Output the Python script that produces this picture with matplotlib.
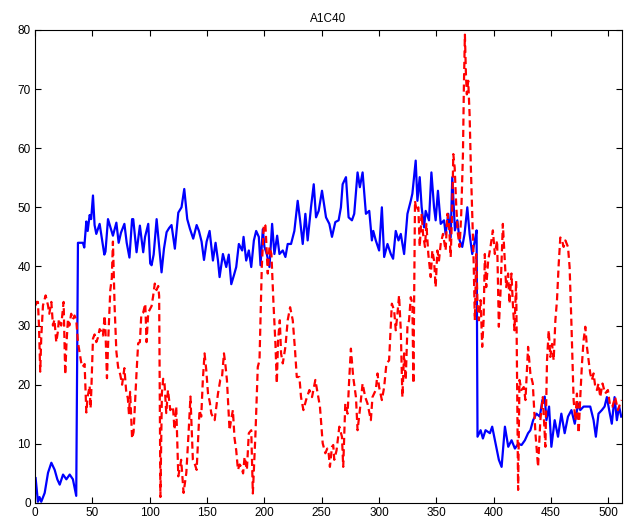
import matplotlib
matplotlib.use('Agg')
import matplotlib.pyplot as plt

# blue solid series (sample index, value)
blue_x = [0.6, 2.6, 4, 5.5, 8.5, 11.4, 14.3, 17.2, 19.5, 21.6, 24.5, 27.4, 30.3, 33.1, 36,
          37.5, 41.8, 43, 44.8, 46, 47.7, 49, 50.6, 52, 53.5, 56.4, 59.3, 60.5, 61.5, 63.7,
          66, 68, 71, 73, 75, 78, 80, 82.4, 84.7, 85.7, 88.6, 91.5, 94.4, 96, 98.8, 100.5,
          101.7, 103.5, 106.1, 108, 110.4, 112.5, 114.8, 117, 119.1, 122, 125, 127.8, 130.2,
          132.8, 135.1, 138, 141, 143, 145.3, 147.4, 149.7, 152.3, 155.2, 157.5, 159.6, 161,
          163.9, 166.8, 169, 171.2, 173.5, 175.5, 177.8, 180.7, 181.9, 184.2, 186.5, 188.6,
          190.9, 192.9, 195.2, 196.7, 198.7, 200.1, 202.2, 204.5, 206.8, 208.8, 211.2, 213.2,
          216.1, 218.4, 220.4, 223.3, 226.2, 229.1, 231.2, 233.5, 235.8, 237.8, 240.7, 243.1,
          245.1, 247.4, 250.3, 253.8, 256.7, 259, 261.9, 264.8, 266.8, 268.3, 271.2, 273.5,
          276.4, 278.4, 281.3, 283.3, 285.7, 288.6, 291.5, 293.8, 295, 297.2, 300.1, 302.5,
          304.5, 307.4, 310.3, 312.3, 314.6, 317, 319, 321.9, 324.8, 327.7, 329.1, 332, 333.5,
          335.5, 337.2, 339.3, 340.7, 343.6, 345.7, 348, 349.4, 351.4, 353.8, 356.7, 358.1,
          360.4, 362.5, 363.9, 366.2, 368.3, 370.3, 372.6, 374.6, 377, 379, 381.3, 383.6,
          385.1, 385.9, 388.6, 390.6, 392.9, 396.7, 398.7, 401.6, 404.5, 406.9, 409.8, 412.7,
          415.6, 418.5, 421.4, 424.3, 427.2, 430, 432, 434.4, 437.3, 440.2, 442.5, 444.5, 446,
          448.3, 450.3, 453.2, 456.1, 459, 461.9, 464.8, 467.8, 470.7, 473.6, 475.5, 478.4,
          481.3, 484.2, 487.1, 489.1, 491.4, 494.3, 496.7, 498.7, 500.7, 503, 505.4, 507.4,
          509.4, 511.2]
blue_y = [4.2, 0.2, 1, 0.2, 1.7, 5.1, 6.8, 5.6, 4, 3.1, 4.8, 4, 4.8, 4, 1.2,
          44, 44, 43.2, 47.6, 46, 48.7, 48, 52, 47, 45.5, 47.2, 43.5, 42, 42.5, 48,
          46.5, 45.2, 47.4, 44, 45.7, 47.2, 44, 41.5, 48, 48, 42.4, 46.9, 42.4, 45, 47.2, 40.5,
          40.2, 42, 48, 44, 39, 43, 45.8, 46.5, 47, 43, 49.1, 50, 53.1,
          48, 46.4, 44.7, 47, 46, 44.2, 41.1, 44.2, 46, 41, 44, 41, 38.2,
          42.1, 39.9, 42, 37, 38.5, 39.9, 43.8, 42.7, 45, 41, 42.7, 39.9,
          44.4, 46, 45, 40.2, 46.3, 43.3, 42.1, 39.9, 47.2, 42.1, 45.2, 42.1,
          42.7, 41.6, 43.8, 43.8, 46, 51.1, 47.8, 43.8, 48.9, 44.4, 50, 53.9,
          48.3, 49.4, 52.8, 48.3, 47.2, 45, 47.5, 47.8, 50, 53.9, 55.1, 48.3,
          47.8, 48.9, 55.9, 53.4, 55.9, 48.9, 49.4, 44.4, 46, 44.4, 42.7, 50,
          41.6, 43.8, 42.1, 41.3, 46, 44.4, 45.5, 42.1, 48.9, 51.1, 52.3, 57.9, 51.1,
          55.1, 50, 46.6, 49.4, 47.8, 55.9, 50, 47.8, 52.8, 47.2, 47.8, 45.5,
          48.9, 44.9, 55.1, 46.1, 47.8, 44.4, 43.3, 45.5, 50, 45.5, 42.1, 44.4,
          46.1, 11.2, 12.3, 10.9, 12.3, 11.8, 12.9, 10.1, 7.3, 6.1, 12.9, 9.5,
          10.6, 9.2, 10, 9.8, 10.6, 11.8, 12.3, 14, 15.1, 14.6, 17.4, 18, 14,
          16.3, 9.5, 14, 11.2, 15.1, 11.8, 14.6, 15.7, 13.4, 16.8, 15.7, 16.3,
          16.3, 16.3, 14, 11.2, 15.1, 15.7, 16.3, 17.9, 15.7, 13.4, 17.9, 14,
          16.3, 14.6]

# red dashed series (sample index, value)
red_x = [0.6, 1.5, 2.6, 3.5, 4.6, 5.5, 7, 9.3, 11.4, 12.5, 14.3, 15.7, 17, 18.6, 20, 20.9,
         22.9, 25, 26.4, 27.5, 28.8, 30, 31.6, 33, 34.5, 36, 37.5, 40.3, 41.5, 43.3, 44.8,
         46, 47.7, 48.5, 49.1, 50.6, 52, 53.5, 55, 56.4, 58, 59.3, 60.8, 61.5, 62.8, 64,
         65.7, 67, 68, 69.5, 71, 72.5, 74.4, 76, 78, 79.5, 81, 82, 83, 84.7, 86, 88.6, 90,
         91.5, 92.8, 94.4, 96.2, 97.3, 98.8, 101.7, 103, 104.5, 106, 107.5, 108.3, 109.4,
         110.7, 111.8, 113, 114.5, 116, 118, 120.3, 121.7, 123.2, 125, 126.5, 127.5, 129.6,
         132, 134, 135.6, 137.7, 139.5, 141, 143.5, 145, 146.4, 147.9, 149.4, 150.9, 152.5,
         153.8, 156.7, 159.6, 161.6, 163, 164.8, 166, 167.4, 169.7, 171, 172.6, 174, 175.5,
         177, 178.5, 179.9, 181.5, 182.8, 184.8, 186.5, 188.6, 190, 192.3, 194.3, 195.8,
         197.8, 199.6, 201, 203, 204.5, 206.2, 208, 209.7, 210.9, 212, 213.5, 214.6, 216.1,
         218.4, 220.4, 222.5, 224.8, 226.8, 228.3, 230.6, 232, 234.1, 236.4, 239.3, 241.6,
         244.5, 246.5, 248.5, 250.9, 253.2, 254.9, 256.1, 257.2, 259, 260.1, 261, 263,
         265.4, 267.7, 268.8, 270.6, 272.6, 274, 275.5, 277.5, 279.9, 281.3, 283.3, 285.7,
         288, 290, 292.9, 294.3, 297.2, 298.7, 300.1, 302.5, 304.5, 306.5, 308.8, 311.2,
         313.2, 314.6, 316.1, 317.5, 319, 320.4, 321.9, 323.3, 324.8, 326.2, 327.7, 329.1,
         330, 331.4, 332.6, 334.3, 335.5, 337.2, 338.4, 340.1, 341.3, 343, 345.1, 346.5,
         348, 349.4, 350.9, 352.3, 353.8, 355.8, 358.1, 359.6, 361, 362.5, 363.9, 364.8,
         366, 367.4, 368.8, 370.3, 371.7, 373.2, 374, 374.9, 375.8, 376.6, 377.8, 379,
         380.1, 381.3, 382.5, 383.6, 384.8, 385.9, 387.1, 388.6, 390, 391.2, 392.3, 393.5,
         395.2, 397.2, 399.3, 401, 403, 404.5, 405.9, 408, 409.7, 410.9, 412.6, 413.8,
         415.5, 416.7, 418.1, 419.6, 421.3, 422.5, 424.2, 426.2, 427.7, 430, 432, 434.1,
         436.4, 438.7, 440.7, 442.8, 445.1, 446.5, 448, 449.4, 450.9, 452.3, 453.8, 455.2,
         456.7, 458.1, 459.6, 461, 462.5, 464.8, 466.2, 467.7, 469.7, 471.2, 472.6, 474.1,
         475.5, 477, 478.4, 479.9, 481.3, 482.8, 484.2, 485.7, 487.1, 488.6, 490, 491.4,
         492.9, 494.9, 497.2, 499.6, 501.6, 503.6, 505.9, 508.3, 510.3, 511.7]
red_y = [33.4, 34, 34, 30, 22.2, 28, 33.4, 35.1, 33.4, 32, 34, 30, 31, 27.2, 29, 31.1,
         30, 34, 21.7, 27, 31.1, 30, 32, 31, 31.7, 31, 27.2, 23.8, 23, 23.5, 15.3,
         18, 19.8, 16, 18.7, 27.8, 28.5, 27.2, 28, 29.4, 29, 28.3, 31.7, 29, 21.1, 28,
         36, 38, 44.2, 33, 25.6, 23, 21.7, 20, 22.8, 19, 17.7, 15, 18.8, 10.9, 12, 22.1, 27,
         27.2, 32, 32.2, 33.7, 27.2, 32.2, 33.3, 34.9, 37.1, 36, 36.7, 35, 1,
         18.6, 21, 20.2, 15.2, 19.1, 15.7, 16.3, 12.4, 16.3, 4.5, 6, 7.3, 1.7,
         5.1, 12, 18, 7.3, 6.5, 5.6, 15.7, 14.6, 20.8, 25.3, 22.4, 18.5, 17,
         15.1, 14, 18.5, 20.8, 21, 25.3, 23.5, 20.8, 12.3, 14, 15.7, 11, 8.9,
         5.6, 6.5, 6.1, 5, 7.8, 5.6, 11.8, 12.3, 1.6, 11.8, 23, 24.1,
         39.9, 47.2, 46.9, 38.8, 43.3, 42.1, 33.7, 26.9, 20.2, 27.5, 30.9, 25.3, 23.6,
         26.4, 30.9, 33.1, 30.9, 25.8, 21.3, 21.3, 17.9, 15.7, 17.4, 19.1, 17.9,
         20.8, 18.5, 16.3, 10.1, 8.4, 9.2, 8.4, 6.1, 9.5, 9.8, 7.3, 8.9,
         12.9, 11.2, 6.1, 16.8, 15.1, 20.8, 26.1, 21.3, 17.9, 12.3, 15.7, 20.2,
         17.9, 16.8, 14, 17.9, 19.1, 21.9, 19.6, 17.4, 19.6, 23.6, 24.1, 33.7,
         32.6, 29.2, 32, 35.1, 29.2, 17.9, 25.3, 20.8, 29.8, 30.9, 34.8, 33.7,
         20.2, 51.1, 49.4, 50, 43.3, 48.9, 45.5, 43.3, 47.2, 42.1, 38.2, 42.7,
         41, 36.5, 42.7, 41, 43.8, 45.5, 42.7, 48.9, 47.2, 41.6, 50, 59,
         56.7, 50, 45.5, 43.3, 48.9, 59, 70.2, 79.2, 72.5, 69.1, 71.4, 65.7,
         56.7, 48.9, 41, 30.9, 42.1, 33.7, 30.9, 34.3, 26.4, 30.9, 42.1, 36.5,
         41, 43.3, 46.1, 42.1, 44.4, 29.8, 35.4, 47.2, 41, 36.5, 38.8, 33.7,
         38.8, 33.7, 29.2, 37.6, 2.2, 20.8, 19.1, 19.6, 17.4, 26.4, 21.9, 20.2,
         11.8, 6.1, 14, 17.9, 9.5, 24.1, 29.2, 24.7, 26.9, 24.1, 30.9, 34.3,
         40.4, 44.9, 44.4, 43.3, 44.4, 43.3, 39.9, 30.9, 17.4, 14, 18.5, 11.8,
         17.9, 23.6, 27.5, 29.8, 26.4, 24.1, 21.9, 20.8, 21.9, 19.6, 19.1, 20.2,
         17.9, 20.2, 18.5, 19.1, 16.3, 16.3, 17.9, 15.7, 16.8, 17.4]

x_ticks = list(range(0, 501, 50))
y_ticks = list(range(0, 81, 10))

plt.rcParams['font.family'] = ['Liberation Sans', 'DejaVu Sans']

fig = plt.figure(figsize=(6.24, 5.25), dpi=100)
ax = fig.add_axes([0.056, 0.042, 0.941, 0.901])

ax.plot(blue_x, blue_y, color='#0000ff', linewidth=1.6)
ax.plot(red_x, red_y, color='#ff0000', linewidth=1.6, linestyle='--', dashes=(3.2, 1.9))

ax.set_xlim(0, 512)
ax.set_ylim(0, 80)
ax.set_xticks(x_ticks)
ax.set_yticks(y_ticks)
ax.tick_params(direction='in', top=True, right=True, labelsize=8.5, length=4, width=0.8, pad=3)
for s in ax.spines.values():
    s.set_linewidth(0.8)
ax.set_title('A1C40', fontsize=8.5, pad=6)

plt.savefig('out.png', dpi=100)
